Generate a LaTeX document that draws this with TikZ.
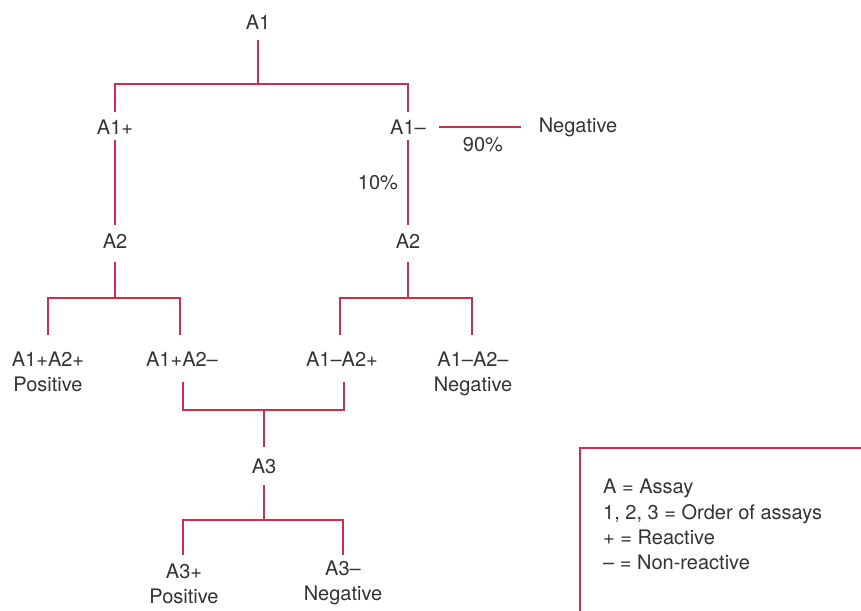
\documentclass[tikz,border=0pt]{standalone}
\usepackage{fontspec}
\setmainfont{TeX Gyre Heros}
\usetikzlibrary{calc}
\definecolor{lc}{RGB}{208,44,76}
\definecolor{txt}{HTML}{333333}
\begin{document}
\begin{tikzpicture}[x=1pt,y=-1pt,
  lbl/.style={font=\fontsize{20}{25}\selectfont, text=txt, inner sep=0pt, align=center},
  ln/.style={draw=lc, line width=1.3pt}]
\useasboundingbox (0,0) rectangle (861,610);
% nodes
\node[lbl] (a1) at (258,22) {A1};
\node[lbl] (a1p) at (115,127) {A1+};
\node[lbl] (a1m) at (408,127) {A1–};
\node[lbl] (neg1) at (578,127) {Negative};
\node[lbl] (p90) at (483,145) {90\%};
\node[lbl] (p10) at (378,183) {10\%};
\node[lbl] (a2l) at (115,241) {A2};
\node[lbl] (a2r) at (408,241) {A2};
\node[lbl, anchor=north] (pp) at (48,352) {A1+A2+\\Positive};
\node[lbl] (pm) at (182,359) {A1+A2–};
\node[lbl] (mp) at (342,359) {A1–A2+};
\node[lbl, anchor=north] (mm) at (473,352) {A1–A2–\\Negative};
\node[lbl] (a3) at (264,466) {A3};
\node[lbl, anchor=north] (a3p) at (184,564) {A3+\\Positive};
\node[lbl, anchor=north] (a3m) at (343,561) {A3–\\Negative};
% junction coordinates
\coordinate (j1) at (258,84);
\coordinate (j2l) at (115,298);
\coordinate (j2r) at (408,298);
\coordinate (j3) at (264,410);
\coordinate (j4) at (264,520);
% connectors
\draw[ln] ($(a1)+(0,18)$) -- (j1);
\draw[ln] ($(a1p)+(0,-15)$) |- (j1) -| ($(a1m)+(0,-15)$);
\draw[ln] ($(a1p)+(0,13)$) -- ($(a2l)+(0,-16)$);
\draw[ln] ($(a1m)+(0,13)$) -- ($(a2r)+(0,-16)$);
\draw[ln] ($(a1m.east)+(13,0)$) -- ($(neg1.west)+(-18,0)$);
\draw[ln] ($(a2l)+(0,21)$) -- (j2l);
\draw[ln] ($(pp.north)+(0,-17)$) |- (j2l) -| ($(pm)+(-2,-24)$);
\draw[ln] ($(a2r)+(0,21)$) -- (j2r);
\draw[ln] ($(mp)+(-2,-24)$) |- (j2r) -| ($(mm.north)+(-1,-17)$);
\draw[ln] ($(pm)+(1,23)$) |- (j3) -| ($(mp)+(2,23)$);
\draw[ln] (j3) -- ($(a3)+(0,-19)$);
\draw[ln] ($(a3)+(0,19)$) -- (j4);
\draw[ln] ($(a3p.north)+(-1,-9)$) |- (j4) -| ($(a3m.north)+(0,-6)$);
% legend
\draw[ln] (862,448) -- (580,448) -- (580,611);
\node[lbl, align=left, anchor=north west, font=\fontsize{20}{25.3}\selectfont] (legend) at (603,479)
  {A = Assay\\1, 2, 3 = Order of assays\\+ = Reactive\\– = Non-reactive};
\end{tikzpicture}
\end{document}
